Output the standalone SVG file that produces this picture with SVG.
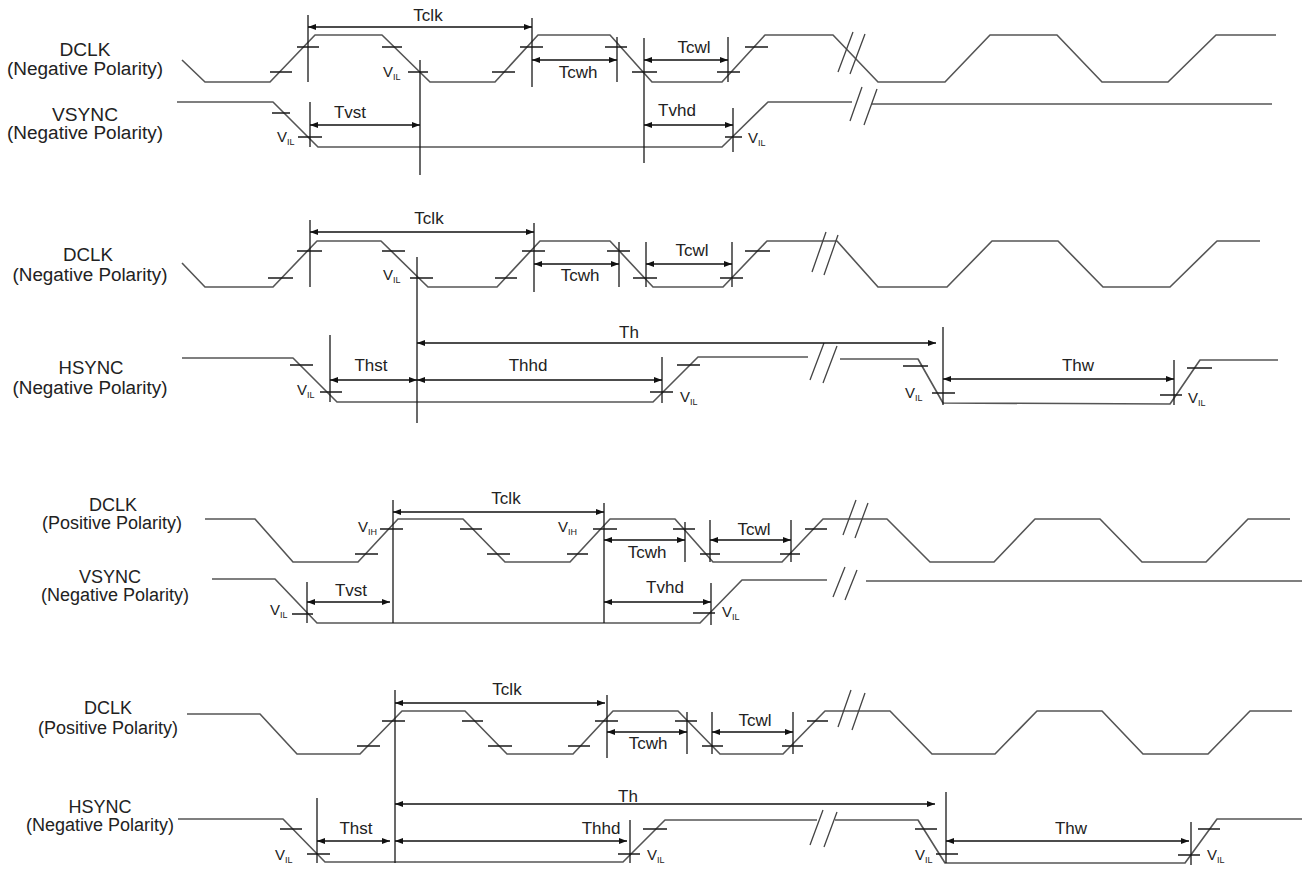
<svg xmlns="http://www.w3.org/2000/svg" width="1304" height="869" viewBox="0 0 1304 869">
<defs>
<marker id="ah" viewBox="0 0 8 6" refX="8" refY="3" markerWidth="8" markerHeight="6" orient="auto-start-reverse" markerUnits="userSpaceOnUse"><path d="M0,0 L8,3 L0,6 z" fill="#111"/></marker>
<style>
.w{fill:none;stroke:#555;stroke-width:1.6;stroke-linejoin:round}
.k{fill:none;stroke:#1a1a1a;stroke-width:1.3}
.a{stroke:#111;stroke-width:1.3;marker-start:url(#ah);marker-end:url(#ah)}
.b{stroke:#444;stroke-width:1.3}
text{font-family:"Liberation Sans",Arial,sans-serif;fill:#222}
.lbl{font-size:18px;text-anchor:middle}
.tl{font-size:17px;text-anchor:middle}
.v{font-size:15px}
.sub{font-size:9px}
</style>
</defs>
<rect width="1304" height="869" fill="#fff"/>

<!-- Panel 1 -->
<g id="p1-labels">
<text class="lbl" x="85" y="56" textLength="51" lengthAdjust="spacingAndGlyphs">DCLK</text>
<text class="lbl" x="85" y="75" textLength="156" lengthAdjust="spacingAndGlyphs">(Negative Polarity)</text>
<text class="lbl" x="85" y="121" textLength="66" lengthAdjust="spacingAndGlyphs">VSYNC</text>
<text class="lbl" x="85" y="139" textLength="156" lengthAdjust="spacingAndGlyphs">(Negative Polarity)</text>
</g>
<g id="p1-dclk">
<path class="w" d="M182,60 L205,82 L270,82 L315,35 L382,35 L430,82 L495,82 L538,35 L610,35 L652,82 L722,82 L765,35 L833,35 L878,82 L945,82 L990,35 L1057,35 L1102,82 L1168,82 L1216,35 L1276,35"/>
<path class="k" d="M270,72h22M297,47h22M382,47h20M408,72h20M492,72h23M520,47h23M605,47h22M632,72h25M717,72h23M745,47h23"/>
<path class="b" d="M838,72L853,32M850,74L865,34"/>
</g>
<g id="p1-vsync">
<path class="w" d="M177,102 L273,102 L318,147 L722,147 L768,102 L852,102 M872,104 L1272,104"/>
<path class="k" d="M272,113h18M298,137h24M725,137h17"/>
<path class="b" d="M850,121L862,87M864,125L877,89"/>
</g>
<g id="p1-connectors">
<path class="k" d="M308,15V82M420,60V175M532,18V87M617,37V82M644,38V163M728,37V82M310,102V147M733,108V152"/>
<line class="a" x1="308" y1="27" x2="532" y2="27"/>
<line class="a" x1="532" y1="60" x2="617" y2="60"/>
<line class="a" x1="644" y1="60" x2="728" y2="60"/>
<line class="a" x1="310" y1="125" x2="420" y2="125"/>
<line class="a" x1="644" y1="125" x2="733" y2="125"/>
<text class="tl" x="428" y="21">Tclk</text>
<text class="tl" x="578" y="78">Tcwh</text>
<text class="tl" x="694" y="53">Tcwl</text>
<text class="tl" x="350" y="118">Tvst</text>
<text class="tl" x="677" y="116">Tvhd</text>
<text class="v" x="383" y="77">V<tspan class="sub" dy="3">IL</tspan></text>
<text class="v" x="277" y="142">V<tspan class="sub" dy="3">IL</tspan></text>
<text class="v" x="748" y="143">V<tspan class="sub" dy="3">IL</tspan></text>
</g>

<!-- Panel 2 -->
<g id="p2-labels">
<text class="lbl" x="88" y="261" textLength="50" lengthAdjust="spacingAndGlyphs">DCLK</text>
<text class="lbl" x="90" y="281" textLength="155" lengthAdjust="spacingAndGlyphs">(Negative Polarity)</text>
<text class="lbl" x="91" y="374" textLength="65" lengthAdjust="spacingAndGlyphs">HSYNC</text>
<text class="lbl" x="90" y="394" textLength="155" lengthAdjust="spacingAndGlyphs">(Negative Polarity)</text>
</g>
<g id="p2-dclk">
<path class="w" d="M182,263 L205,287 L273,287 L317,241 L381,241 L428,287 L497,287 L540,241 L610,241 L653,287 L723,287 L767,241 L837,241 L878,287 L947,287 L992,241 L1058,241 L1103,287 L1170,287 L1217,241 L1260,241"/>
<path class="k" d="M268,278h25M297,251h25M382,251h23M410,278h23M495,278h22M522,251h23M607,251h23M633,278h24M720,278h23M745,251h25"/>
<path class="b" d="M812,272L826,232M824,275L838,235"/>
</g>
<g id="p2-hsync">
<path class="w" d="M182,358 L293,358 L337,402 L653,402 L698,357 L808,357 M840,359 L918,359 L943,403 L1170,404 L1200,360 L1278,360"/>
<path class="k" d="M290,365h23M320,392h22M650,392h23M677,365h23M903,366h25M932,393h23M1160,395h22M1187,368h25"/>
<path class="b" d="M810,380L824,343M823,383L837,346"/>
</g>
<g id="p2-connectors">
<path class="k" d="M310,220V287M417,257V423M534,223V292M619,242V287M646,242V287M732,242V287M330,335V402M662,357V403M943,327V405M1174,360V405"/>
<line class="a" x1="310" y1="232" x2="534" y2="232"/>
<line class="a" x1="534" y1="264" x2="619" y2="264"/>
<line class="a" x1="646" y1="264" x2="732" y2="264"/>
<line class="a" x1="417" y1="343" x2="936" y2="343"/>
<line class="a" x1="330" y1="380" x2="417" y2="380"/>
<line class="a" x1="417" y1="380" x2="662" y2="380"/>
<line class="a" x1="943" y1="379" x2="1174" y2="379"/>
<text class="tl" x="429" y="224">Tclk</text>
<text class="tl" x="580" y="281">Tcwh</text>
<text class="tl" x="692" y="256">Tcwl</text>
<text class="tl" x="629" y="338">Th</text>
<text class="tl" x="371" y="371">Thst</text>
<text class="tl" x="528" y="371">Thhd</text>
<text class="tl" x="1078" y="371">Thw</text>
<text class="v" x="383" y="280">V<tspan class="sub" dy="3">IL</tspan></text>
<text class="v" x="297" y="395">V<tspan class="sub" dy="3">IL</tspan></text>
<text class="v" x="680" y="402">V<tspan class="sub" dy="3">IL</tspan></text>
<text class="v" x="905" y="398">V<tspan class="sub" dy="3">IL</tspan></text>
<text class="v" x="1188" y="403">V<tspan class="sub" dy="3">IL</tspan></text>
</g>

<!-- Panel 3 -->
<g id="p3-labels">
<text class="lbl" x="113" y="511">DCLK</text>
<text class="lbl" x="112" y="529">(Positive Polarity)</text>
<text class="lbl" x="110" y="583">VSYNC</text>
<text class="lbl" x="115" y="601">(Negative Polarity)</text>
</g>
<g id="p3-dclk">
<path class="w" d="M205,519 L255,519 L293,562 L358,562 L398,519 L463,519 L505,562 L570,562 L610,519 L675,519 L713,562 L782,562 L823,519 L887,519 L930,562 L994,562 L1035,519 L1100,519 L1142,562 L1206,562 L1248,519 L1290,519"/>
<path class="k" d="M355,554h23M380,529h23M460,529h22M487,554h23M567,554h21M593,529h24M673,529h22M700,554h20M780,554h20M805,529h22"/>
<path class="b" d="M843,535L856,500M855,538L868,503"/>
</g>
<g id="p3-vsync">
<path class="w" d="M212,579 L275,579 L317,623 L700,623 L742,580 L827,580 M866,581 L1302,581"/>
<path class="k" d="M292,614h21M693,613h22"/>
<path class="b" d="M833,597L845,567M845,600L857,570"/>
</g>
<g id="p3-connectors">
<path class="k" d="M393,500V623M604,503V623M685,522V562M710,520V562M791,520V562M307,582V623M711,583V625"/>
<line class="a" x1="393" y1="512" x2="604" y2="512"/>
<line class="a" x1="604" y1="540" x2="685" y2="540"/>
<line class="a" x1="710" y1="540" x2="791" y2="540"/>
<line class="a" x1="307" y1="602" x2="390" y2="602"/>
<line class="a" x1="604" y1="602" x2="711" y2="602"/>
<text class="tl" x="506" y="504">Tclk</text>
<text class="tl" x="647" y="558">Tcwh</text>
<text class="tl" x="754" y="535">Tcwl</text>
<text class="tl" x="351" y="596">Tvst</text>
<text class="tl" x="665" y="593">Tvhd</text>
<text class="v" x="358" y="532">V<tspan class="sub" dy="3">IH</tspan></text>
<text class="v" x="558" y="532">V<tspan class="sub" dy="3">IH</tspan></text>
<text class="v" x="270" y="615">V<tspan class="sub" dy="3">IL</tspan></text>
<text class="v" x="722" y="617">V<tspan class="sub" dy="3">IL</tspan></text>
</g>

<!-- Panel 4 -->
<g id="p4-labels">
<text class="lbl" x="108" y="714">DCLK</text>
<text class="lbl" x="108" y="734">(Positive Polarity)</text>
<text class="lbl" x="100" y="813">HSYNC</text>
<text class="lbl" x="100" y="831">(Negative Polarity)</text>
</g>
<g id="p4-dclk">
<path class="w" d="M187,714 L260,714 L297,754 L360,754 L402,711 L465,711 L507,754 L573,754 L613,711 L678,711 L720,754 L783,754 L825,711 L890,711 L932,754 L995,754 L1037,711 L1102,711 L1143,754 L1208,754 L1250,711 L1292,711"/>
<path class="k" d="M357,746h23M382,721h23M462,721h21M488,746h24M568,746h22M595,721h23M675,721h22M702,746h21M782,746h21M807,721h21"/>
<path class="b" d="M838,727L851,690M852,730L865,693"/>
</g>
<g id="p4-hsync">
<path class="w" d="M178,819 L283,819 L325,862 L623,862 L665,820 L817,820 M835,820 L918,820 L945,863 L1185,863 L1217,819 L1302,819"/>
<path class="k" d="M280,829h22M307,854h23M618,854h22M643,829h24M915,829h22M936,854h22M1178,855h22M1198,829h22"/>
<path class="b" d="M810,845L823,810M824,847L837,812"/>
</g>
<g id="p4-connectors">
<path class="k" d="M395,690V863M607,695V758M687,712V754M712,712V754M793,712V754M317,798V863M630,820V863M946,792V863M1191,822V865"/>
<line class="a" x1="395" y1="703" x2="605" y2="703"/>
<line class="a" x1="607" y1="732" x2="687" y2="732"/>
<line class="a" x1="712" y1="732" x2="793" y2="732"/>
<line class="a" x1="395" y1="804" x2="935" y2="804"/>
<line class="a" x1="317" y1="841" x2="390" y2="841"/>
<line class="a" x1="395" y1="841" x2="627" y2="841"/>
<line class="a" x1="946" y1="841" x2="1189" y2="841"/>
<text class="tl" x="507" y="695">Tclk</text>
<text class="tl" x="648" y="749">Tcwh</text>
<text class="tl" x="755" y="726">Tcwl</text>
<text class="tl" x="628" y="802">Th</text>
<text class="tl" x="356" y="834">Thst</text>
<text class="tl" x="601" y="834">Thhd</text>
<text class="tl" x="1071" y="834">Thw</text>
<text class="v" x="275" y="860">V<tspan class="sub" dy="3">IL</tspan></text>
<text class="v" x="647" y="860">V<tspan class="sub" dy="3">IL</tspan></text>
<text class="v" x="915" y="860">V<tspan class="sub" dy="3">IL</tspan></text>
<text class="v" x="1207" y="860">V<tspan class="sub" dy="3">IL</tspan></text>
</g>
</svg>
